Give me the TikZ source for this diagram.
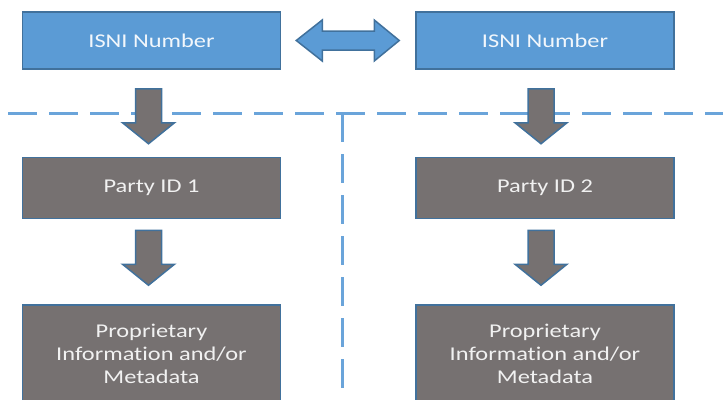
\documentclass[tikz,border=0pt]{standalone}
\usepackage{fontspec}
\setmainfont{Carlito}[FakeStretch=1.25,Ligatures=NoCommon]
\usepackage{xcolor}
\usepackage{tikz}
\usetikzlibrary{calc,positioning}
\definecolor{isniblue}{HTML}{5B9BD5}
\definecolor{edgeblue}{HTML}{41719C}
\definecolor{partygray}{HTML}{767171}
\definecolor{dashblue}{HTML}{6AA4DA}
\newcommand{\downblock}[2]{%
	\draw[blockarrow] ($(#1)+(-13,0)$) -- ($(#1)+(13,0)$) -- ($(#2)+(13,21)$) -- ($(#2)+(26,21)$) -- (#2) -- ($(#2)+(-26,21)$) -- ($(#2)+(-13,21)$) -- cycle;}

\begin{document}
\begin{tikzpicture}[x=1pt,y=1pt,
	isnibox/.style={draw=edgeblue,line width=1.5pt,fill=isniblue,minimum width=258pt,minimum height=57pt,text=white!92!isniblue,font=\fontsize{19.5}{23}\selectfont},
	partybox/.style={draw=edgeblue,line width=1.5pt,fill=partygray,minimum width=258pt,minimum height=61pt,text=white!90!partygray,font=\fontsize{19.5}{23}\selectfont,align=center},
	blockarrow/.style={draw=edgeblue,line width=1.5pt,fill=partygray,line join=miter},
	divider/.style={dashblue,line width=3pt,dash pattern=on 29pt off 12pt}]
	\useasboundingbox (0,0) rectangle (723,-399);
	\clip (0,0) rectangle (723,-399);
	% dashed dividers
	\draw[divider] (8,-113)--(723,-113);
	\draw[divider] (342,-113)--(342,-399);
	% boxes
	\node[isnibox] (isniL) at (151.5,-40.5) {ISNI Number};
	\node[isnibox,right=134pt of isniL] (isniR) {ISNI Number};
	\node[partybox,below=87pt of isniL] (partyL) {Party ID 1};
	\node[partybox,below=87pt of isniR] (partyR) {Party ID 2};
	\node[partybox,minimum height=98pt,below=85pt of partyL] (propL) {Proprietary\\Information and/or\\Metadata};
	\node[partybox,minimum height=98pt,below=85pt of partyR] (propR) {Proprietary\\Information and/or\\Metadata};
	% two-way arrow
	\coordinate (swapL) at ($(isniL.east)+(15,0)$);
	\coordinate (swapR) at ($(isniR.west)+(-16,0)$);
	\draw[blockarrow,fill=isniblue] (swapL)--($(swapL)+(26,20.5)$)--($(swapL)+(26,9.5)$)--($(swapR)+(-25,9.5)$)--($(swapR)+(-25,20.5)$)--(swapR)--($(swapR)+(-25,-20.5)$)--($(swapR)+(-25,-9.5)$)--($(swapL)+(26,-9.5)$)--($(swapL)+(26,-20.5)$)--cycle;
	% down arrows
	\coordinate (d1a) at ($(isniL.south)+(-3,-19)$);
	\coordinate (d1b) at ($(partyL.north)+(-3,13)$);
	\coordinate (d2a) at ($(isniR.south)+(-4,-19)$);
	\coordinate (d2b) at ($(partyR.north)+(-4,13)$);
	\coordinate (d3a) at ($(partyL.south)+(-3,-11)$);
	\coordinate (d3b) at ($(propL.north)+(-3,19)$);
	\coordinate (d4a) at ($(partyR.south)+(-4,-11)$);
	\coordinate (d4b) at ($(propR.north)+(-4,19)$);
	\downblock{d1a}{d1b}
	\downblock{d2a}{d2b}
	\downblock{d3a}{d3b}
	\downblock{d4a}{d4b}
\end{tikzpicture}
\end{document}
